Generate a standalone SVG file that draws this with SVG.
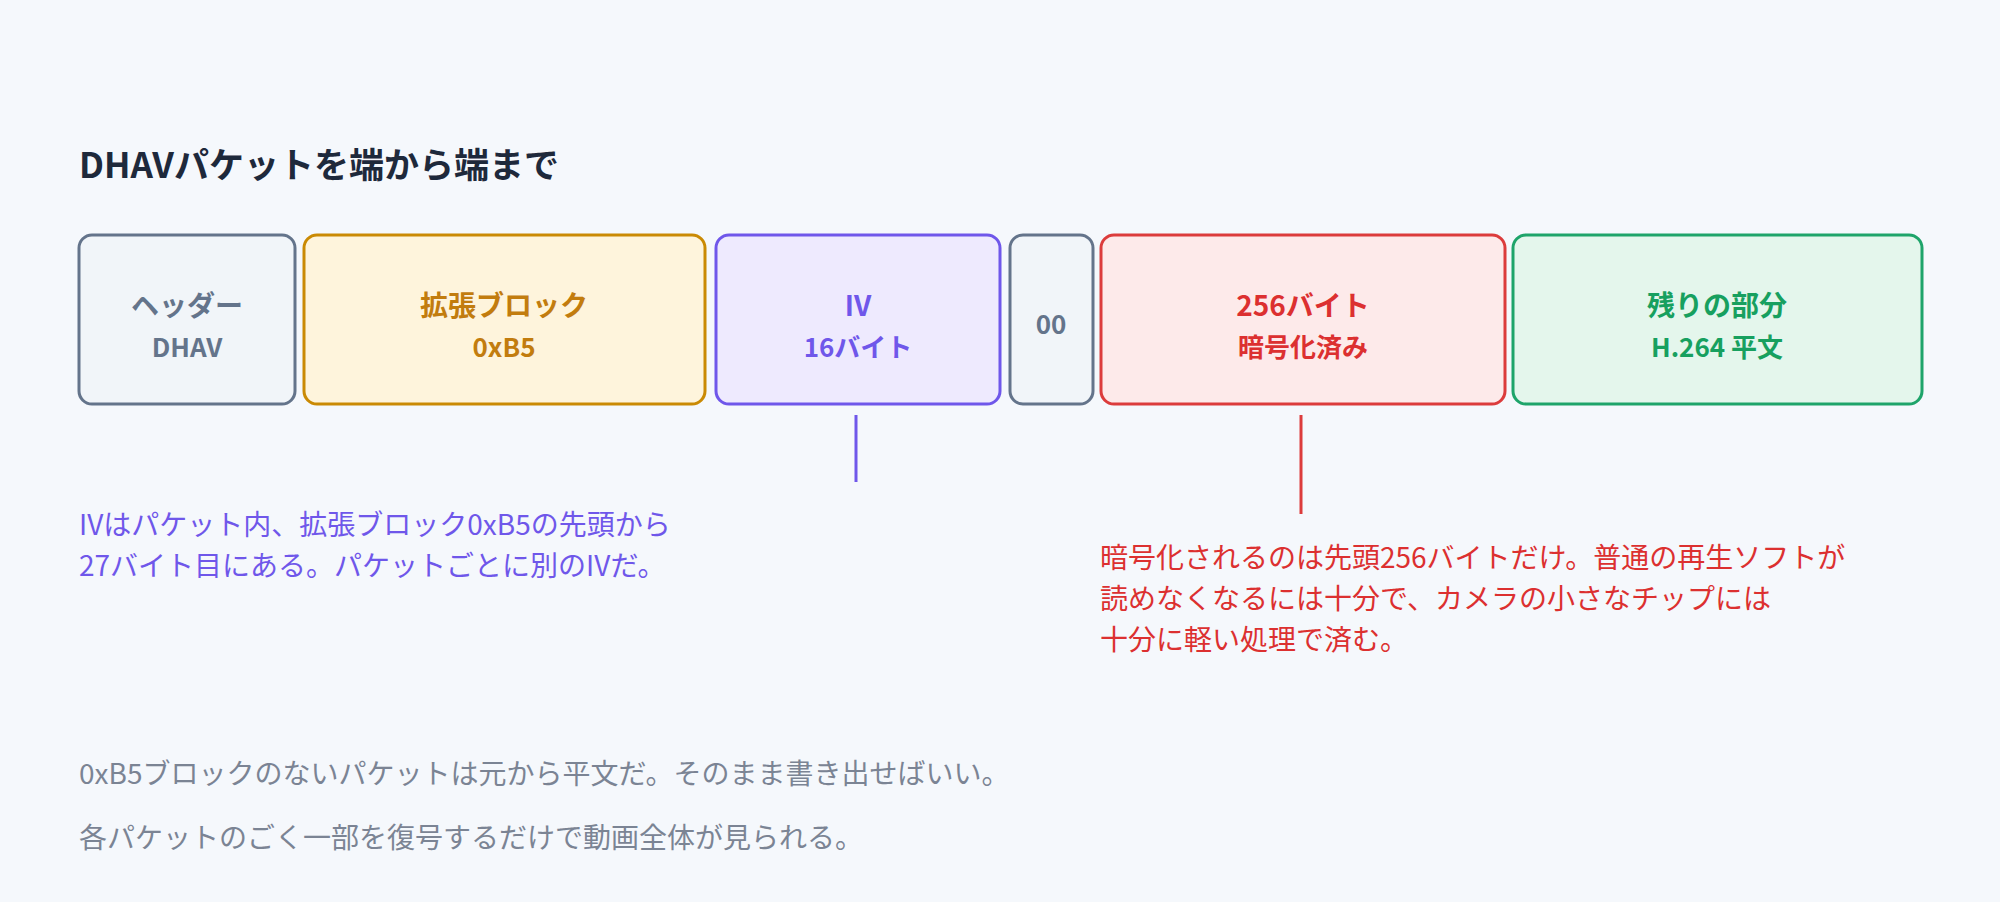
<svg xmlns="http://www.w3.org/2000/svg" width="2000" height="902" viewBox="0 0 2000 902">
<style>
text{font-family:"Noto Sans CJK JP","Noto Sans",sans-serif}
.t1{font-size:28px;font-weight:700;text-anchor:middle}
.t2{font-size:26px;font-weight:700;text-anchor:middle}
.n{font-size:28px}
rect{stroke-width:3}
</style>
<rect width="2000" height="902" fill="#f5f8fc"/>
<text x="79" y="178" font-size="35" font-weight="700" fill="#1e293b">DHAVパケットを端から端まで</text>
<g id="header"><rect x="79" y="235" width="216" height="169" rx="13" fill="#f1f5f9" stroke="#64748b"/><text class="t1" x="187" y="316" fill="#64748b">ヘッダー</text><text class="t2" x="187" y="357" fill="#64748b">DHAV</text></g>
<g id="ext"><rect x="304" y="235" width="401" height="169" rx="13" fill="#fef4dc" stroke="#ca8a04"/><text class="t1" x="504" y="316" fill="#c27c0e">拡張ブロック</text><text class="t2" x="504" y="357" fill="#c27c0e">0xB5</text></g>
<g id="iv"><rect x="716" y="235" width="284" height="169" rx="13" fill="#eeeafe" stroke="#6f57ea"/><text class="t1" x="858" y="316" fill="#6f57ea">IV</text><text class="t2" x="858" y="357" fill="#6f57ea">16バイト</text></g>
<g id="zero"><rect x="1010" y="235" width="83" height="169" rx="13" fill="#f1f5f9" stroke="#64748b"/><text class="t2" x="1051" y="334" fill="#64748b">00</text></g>
<g id="enc"><rect x="1101" y="235" width="404" height="169" rx="13" fill="#fdeaea" stroke="#dc3c3c"/><text class="t1" x="1303" y="316" fill="#dc3030">256バイト</text><text class="t2" x="1303" y="357" fill="#dc3030">暗号化済み</text></g>
<g id="rest"><rect x="1513" y="235" width="409" height="169" rx="13" fill="#e4f6ec" stroke="#1ea46a"/><text class="t1" x="1717" y="316" fill="#17a05f">残りの部分</text><text class="t2" x="1717" y="357" fill="#17a05f">H.264 平文</text></g>
<g id="connectors"><line x1="856" y1="415" x2="856" y2="482" stroke="#6f57ea" stroke-width="3"/><line x1="1301" y1="415" x2="1301" y2="514" stroke="#dc3c3c" stroke-width="3"/></g>
<g id="notes">
<text class="n" x="79" y="535" fill="#6f57ea">IVはパケット内、拡張ブロック0xB5の先頭から</text>
<text class="n" x="79" y="576" fill="#6f57ea">27バイト目にある。パケットごとに別のIVだ。</text>
<text class="n" x="1100" y="568" fill="#dc3030">暗号化されるのは先頭256バイトだけ。普通の再生ソフトが</text>
<text class="n" x="1100" y="609" fill="#dc3030">読めなくなるには十分で、カメラの小さなチップには</text>
<text class="n" x="1100" y="650" fill="#dc3030">十分に軽い処理で済む。</text>
<text class="n" x="79" y="784" fill="#7b8494">0xB5ブロックのないパケットは元から平文だ。そのまま書き出せばいい。</text>
<text class="n" x="79" y="848" fill="#7b8494">各パケットのごく一部を復号するだけで動画全体が見られる。</text>
</g>
</svg>
